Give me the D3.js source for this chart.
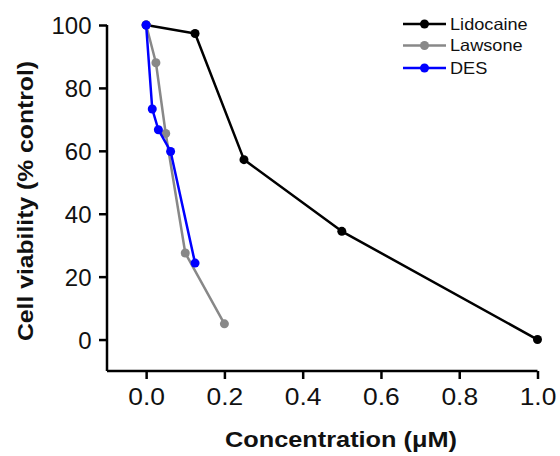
<!DOCTYPE html>
<html><head><meta charset="utf-8">
<script src="https://cdn.jsdelivr.net/npm/d3@7"></script>
<style>body{margin:0;background:#fff}svg{display:block}text{font-family:Arial,"Liberation Sans",sans-serif}</style>
</head><body>
<svg id="c" width="560" height="456"></svg>
<script>
const seriesNames = ["Lidocaine", "Lawsone", "DES"];
const seriesColors = ["#000000", "#888888", "#0000ff"];
const lidocaineX = [0, 0.125, 0.25, 0.5, 1.0];
const lidocaineY = [100, 97.3, 57.2, 34.4, 0];
const lawsoneX = [0, 0.025, 0.05, 0.1, 0.2];
const lawsoneY = [100, 88, 65.5, 27.5, 5];
const desX = [0, 0.015625, 0.03125, 0.0625, 0.125];
const desY = [100, 73.3, 66.7, 59.8, 24.3];
const xTicks = [0, 0.2, 0.4, 0.6, 0.8, 1.0];
const yTicks = [0, 20, 40, 60, 80, 100];

const svg = d3.select("#c");
const x = d3.scaleLinear().domain([-0.1, 1.0]).range([107, 537.5]);
const y = d3.scaleLinear().domain([-10, 100]).range([371, 25]);

const ax = svg.append("g").attr("transform", "translate(0,371)")
  .call(d3.axisBottom(x).tickValues(xTicks).tickFormat(d3.format(".1f")).tickSize(8).tickSizeOuter(0));
const ay = svg.append("g").attr("transform", "translate(107,0)")
  .call(d3.axisLeft(y).tickValues(yTicks).tickFormat(d3.format("d")).tickSize(8).tickSizeOuter(0));
[ax, ay].forEach(g => {
  g.select(".domain").attr("stroke", "#000").attr("stroke-width", 2.5);
  g.selectAll(".tick line").attr("stroke", "#000").attr("stroke-width", 2.5);
  g.selectAll(".tick text").attr("fill", "#111").attr("font-size", 24).attr("font-family", "Arial, 'Liberation Sans', sans-serif");
});
ax.select(".domain").attr("d", `M107,0H537.5`);
ay.select(".domain").attr("d", `M0,${y(100)}V371`);
ax.selectAll(".tick text").attr("y", 34).attr("dy", 0).attr("transform", "scale(1.1,1)");
ay.selectAll(".tick text").attr("x", -15.5).attr("dy", "0.36em");

const data = [
  lidocaineX.map((v, i) => [v, lidocaineY[i]]),
  lawsoneX.map((v, i) => [v, lawsoneY[i]]),
  desX.map((v, i) => [v, desY[i]])
];
const line = d3.line().x(d => x(d[0])).y(d => y(d[1]));
data.forEach((pts, k) => {
  const g = svg.append("g");
  g.append("path").attr("d", line(pts)).attr("fill", "none")
    .attr("stroke", seriesColors[k]).attr("stroke-width", 2.5).attr("stroke-linejoin", "round");
  g.selectAll("circle").data(pts).join("circle")
    .attr("cx", d => x(d[0])).attr("cy", d => y(d[1])).attr("r", 4.5)
    .attr("fill", seriesColors[k]);
});

// legend
const leg = svg.append("g");
seriesNames.forEach((n, i) => {
  const yy = [24, 45.5, 68][i];
  leg.append("line").attr("x1", 403).attr("x2", 446).attr("y1", yy).attr("y2", yy)
    .attr("stroke", seriesColors[i]).attr("stroke-width", 2.5);
  leg.append("circle").attr("cx", 424.5).attr("cy", yy).attr("r", 4.5).attr("fill", seriesColors[i]);
  const t = leg.append("text").attr("x", 450).attr("y", yy).attr("dy", "0.36em")
    .attr("font-size", 16.5).attr("fill", "#111").text(n);
  const w = t.node().getComputedTextLength();
  t.attr("textLength", w * 1.1).attr("lengthAdjust", "spacingAndGlyphs");
});

svg.append("text").attr("x", 341).attr("y", 447).attr("text-anchor", "middle")
  .attr("font-size", 22).attr("font-weight", "bold").attr("fill", "#111")
  .attr("textLength", 232).attr("lengthAdjust", "spacingAndGlyphs").text("Concentration (\u03bcM)");
svg.append("text").attr("transform", "translate(33,201) rotate(-90)").attr("text-anchor", "middle")
  .attr("font-size", 22).attr("font-weight", "bold").attr("fill", "#111")
  .attr("textLength", 280).attr("lengthAdjust", "spacingAndGlyphs").text("Cell viability (% control)");
</script>
</body></html>
